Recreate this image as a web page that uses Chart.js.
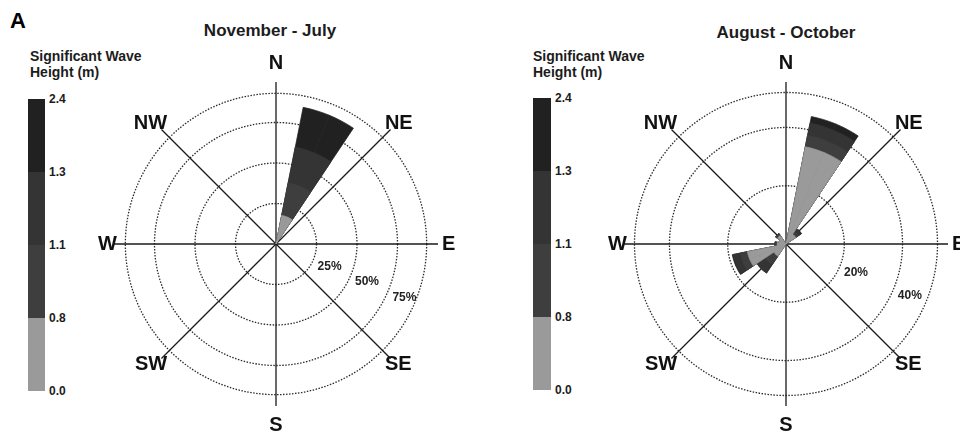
<!DOCTYPE html>
<html>
<head>
<meta charset="utf-8">
<script src="https://cdn.jsdelivr.net/npm/chart.js@4/dist/chart.umd.min.js"></script>
<style>
  body { margin: 0; width: 960px; height: 439px; overflow: hidden; background: #fff; position: relative;
         font-family: 'Liberation Sans', Arial, sans-serif; color: #1c1c1c; }
  .abs { position: absolute; white-space: nowrap; line-height: 1; font-weight: bold; }
  .panel { left: 10px; top: 10px; font-size: 22px; color: #000; }
  .title { font-size: 17px; transform: translateX(-50%); }
  .cbTitle { font-size: 14px; line-height: 16px; }
  .cbBar { position: absolute; }
  .cbLabel { font-size: 12px; }
  .rose { position: absolute; width: 386px; height: 386px; }
</style>
</head>
<body>
<div class="abs panel">A</div>
<div class="abs title" style="left:270px; top:22px;">November - July</div>
<div class="abs title" style="left:786px; top:24px;">August - October</div>
<div id="legendLeft"></div>
<div id="legendRight"></div>
<div class="rose" style="left:84px; top:51px;"><canvas id="roseLeft"></canvas></div>
<div class="rose" style="left:594px; top:51px;"><canvas id="roseRight"></canvas></div>
<script>
const directions = ['N', 'NNE', 'NE', 'ENE', 'E', 'ESE', 'SE', 'SSE', 'S', 'SSW', 'SW', 'WSW', 'W', 'WNW', 'NW', 'NNW'];
const binEdges = ['0.0', '0.8', '1.1', '1.3', '2.4'];
const binColors = ['#9a9a9a', '#3e3e3e', '#343434', '#212121'];

// % of records per direction, one array per wave height bin (m)
const novJul00to08 = [0, 18, 0, 0, 0, 0, 0, 0, 0, 0, 0, 0, 0, 0, 0, 0];
const novJul08to11 = [0, 20.5, 0, 0, 0, 0, 0, 0, 0, 0, 0, 0, 0, 0, 0, 0];
const novJul11to13 = [0, 22.5, 0, 0, 0, 0, 0, 0, 0, 0, 0, 0, 0, 0, 0, 0];
const novJul13to24 = [0, 25, 0, 0, 0, 0, 0, 0, 0, 0, 0, 0, 0, 0, 0, 0];

const augOct00to08 = [0, 34, 4, 0, 0, 0, 0, 0, 0, 0, 5, 13.5, 3, 2.5, 3.5, 0];
const augOct08to11 = [0, 4, 1.2, 0, 0, 0, 0, 0, 0, 0, 3.5, 2.5, 0.8, 0, 0.8, 0];
const augOct11to13 = [0, 4.3, 1.2, 0, 0, 0, 0, 0, 0, 0, 3.5, 2.5, 0, 0, 0, 0];
const augOct13to24 = [0, 2.3, 0, 0, 0, 0, 0, 0, 0, 0, 0, 0.3, 0, 0, 0, 0];

// ring values (%), last one is the outer ring, and the axis extent
const novJulRings = [25, 50, 75, 93];
const novJulRingLabels = ['25%', '50%', '75%'];
const novJulMax = 100;
const augOctRings = [20, 40, 52];
const augOctRingLabels = ['20%', '40%'];
const augOctMax = 55.6;

Chart.defaults.font.family = "'Liberation Sans', Arial, sans-serif";
Chart.defaults.color = '#1c1c1c';

// each sector is split in two halves so the compass lines sit on sector centres
const halfLabels = Array.from({ length: 32 }, (_, j) => directions[Math.floor((j + 1) / 2) % 16]);
const toHalves = values => halfLabels.map((_, j) => values[Math.floor((j + 1) / 2) % 16]);

function cumulative(bins) {
    let run = new Array(16).fill(0);
    return bins.map(b => (run = run.map((v, i) => v + b[i])));
}

// label padding per compass point (N/S, E, W, diagonals)
function labelPadding(i) {
    if (i % 16 === 0) return 7;
    if (i === 8) return 4;
    if (i === 24) return -3;
    if (i % 4 === 0) return -8;
    return 0;
}

const ringLabelPlugin = {
    id: 'ringLabels',
    afterDatasetsDraw(chart, args, opts) {
        const r = chart.scales.r;
        const ctx = chart.ctx;
        ctx.save();
        ctx.font = "bold 12px 'Liberation Sans', Arial, sans-serif";
        ctx.fillStyle = '#222';
        ctx.textAlign = 'center';
        ctx.textBaseline = 'middle';
        opts.values.forEach((v, i) => {
            const p = r.getPointPosition(10, r.getDistanceFromCenterForValue(v) + 17.5);
            ctx.fillText(opts.text[i], p.x, p.y);
        });
        ctx.restore();
    }
};

function makeRose(canvasId, bins, max, rings, ringLabels) {
    const cum = cumulative(bins);
    return new Chart(document.getElementById(canvasId), {
        type: 'polarArea',
        data: {
            labels: halfLabels,
            datasets: cum.map((vals, k) => ({
                data: toHalves(vals),
                backgroundColor: binColors[k],
                borderColor: binColors[k],
                borderWidth: c => (c.raw > 0 ? 0.75 : 0)
            }))
        },
        options: {
            responsive: true,
            maintainAspectRatio: false,
            animation: false,
            plugins: {
                legend: { display: false },
                tooltip: { enabled: false },
                ringLabels: { values: rings.slice(0, ringLabels.length), text: ringLabels }
            },
            scales: {
                r: {
                    min: 0,
                    max: max,
                    startAngle: 0,
                    afterBuildTicks: s => { s.ticks = [0, ...rings].map(v => ({ value: v })); },
                    ticks: { display: false },
                    grid: { circular: true, color: '#2a2a2a', lineWidth: 1.3 },
                    border: { dash: [1.5, 1.5] },
                    angleLines: {
                        display: true,
                        color: '#1a1a1a',
                        lineWidth: c => (c.index % 4 === 0 ? 1.3 : 0)
                    },
                    pointLabels: {
                        display: true,
                        callback: (label, i) => (i % 4 === 0 ? label : ''),
                        font: { size: 20, weight: 'bold' },
                        color: '#111',
                        padding: c => labelPadding(c.index)
                    }
                }
            }
        },
        plugins: [ringLabelPlugin]
    });
}

function drawColorbar(containerId, titleX, x, barTop, width, segH) {
    const box = document.getElementById(containerId);
    let html = `<div class="abs cbTitle" style="left:${titleX}px;top:48px">Significant Wave<br>Height (m)</div>`;
    binColors.forEach((c, k) => {
        const top = barTop + (binColors.length - 1 - k) * segH;
        html += `<div class="cbBar" style="left:${x}px;top:${top}px;width:${width}px;height:${segH}px;background:${c}"></div>`;
    });
    binEdges.forEach((label, k) => {
        const y = barTop + (binEdges.length - 1 - k) * segH;
        html += `<div class="abs cbLabel" style="left:${x + width + 4}px;top:${y - 6}px">${label}</div>`;
    });
    box.innerHTML = html;
}

drawColorbar('legendLeft', 30, 28, 99, 17, 73);
drawColorbar('legendRight', 533, 533, 98, 18, 73);

makeRose('roseLeft', [novJul00to08, novJul08to11, novJul11to13, novJul13to24], novJulMax, novJulRings, novJulRingLabels);
makeRose('roseRight', [augOct00to08, augOct08to11, augOct11to13, augOct13to24], augOctMax, augOctRings, augOctRingLabels);
</script>
</body>
</html>
